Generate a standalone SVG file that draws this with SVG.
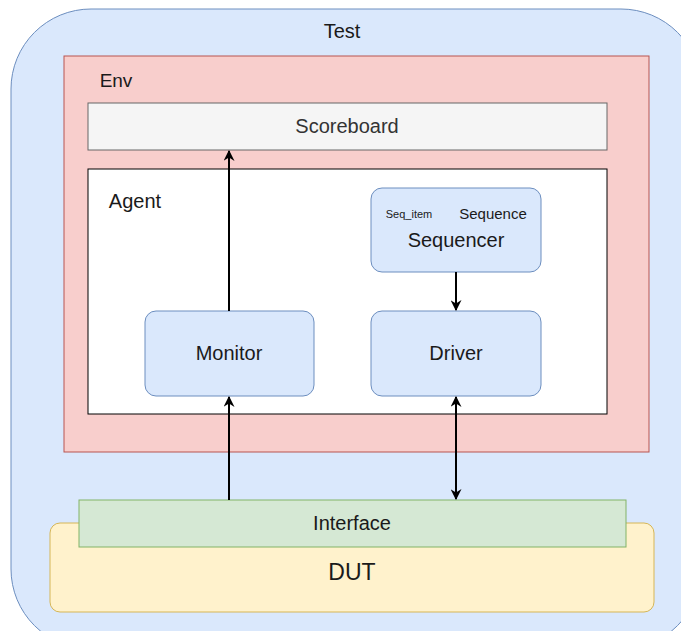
<svg xmlns="http://www.w3.org/2000/svg" width="681" height="631" viewBox="0 0 681 631">
<defs>
<style>
text{font-family:"Liberation Sans",Arial,sans-serif;fill:#1a1a1a;text-anchor:middle;dominant-baseline:central}
.blue{fill:#dae8fc;stroke:#6c8ebf;stroke-width:1}
.conn{stroke:#000;stroke-width:2;fill:none}
</style>
<marker id="ah" viewBox="0 0 10 10" refX="9" refY="5" markerWidth="5.5" markerHeight="5.5" orient="auto-start-reverse" markerUnits="strokeWidth">
<path d="M0,0 L10,5 L0,10 L3,5 Z" fill="#000"/>
</marker>
</defs>
<rect width="681" height="631" fill="#fff"/>
<g id="test">
<rect x="11" y="9" width="690" height="640" rx="80" ry="80" class="blue"/>
<text x="342" y="31" font-size="20">Test</text>
</g>
<g id="env">
<rect x="64" y="56" width="585" height="396" fill="#f8cecc" stroke="#b85450"/>
<text x="116" y="80" font-size="19">Env</text>
</g>
<g id="scoreboard">
<rect x="88" y="103" width="519" height="47" fill="#f5f5f5" stroke="#666"/>
<text x="347" y="126" font-size="20" style="fill:#333">Scoreboard</text>
</g>
<g id="agent">
<rect x="88" y="169" width="519" height="245" fill="#fff" stroke="#000"/>
<text x="135" y="201" font-size="20">Agent</text>
</g>
<g id="sequencer">
<rect x="371" y="188" width="170" height="84" rx="11" class="blue"/>
<text x="409" y="214" font-size="11">Seq_item</text>
<text x="493" y="213" font-size="15">Sequence</text>
<text x="456" y="240" font-size="20">Sequencer</text>
</g>
<g id="monitor">
<rect x="145" y="311" width="169" height="85" rx="11" class="blue"/>
<text x="229" y="353" font-size="20">Monitor</text>
</g>
<g id="driver">
<rect x="371" y="311" width="170" height="85" rx="11" class="blue"/>
<text x="456" y="353" font-size="20">Driver</text>
</g>
<g id="dut">
<rect x="50" y="523" width="604" height="89" rx="10" fill="#fff2cc" stroke="#d6b656"/>
<text x="352" y="572" font-size="23">DUT</text>
</g>
<g id="interface">
<rect x="79" y="500" width="547" height="47" fill="#d5e8d4" stroke="#82b366"/>
<text x="352" y="523" font-size="20">Interface</text>
</g>
<g id="connectors">
<line class="conn" x1="229" y1="311" x2="229" y2="151" marker-end="url(#ah)"/>
<line class="conn" x1="229" y1="500" x2="229" y2="397" marker-end="url(#ah)"/>
<line class="conn" x1="456" y1="272" x2="456" y2="310" marker-end="url(#ah)"/>
<line class="conn" x1="456" y1="397" x2="456" y2="499" marker-start="url(#ah)" marker-end="url(#ah)"/>
</g>
</svg>
